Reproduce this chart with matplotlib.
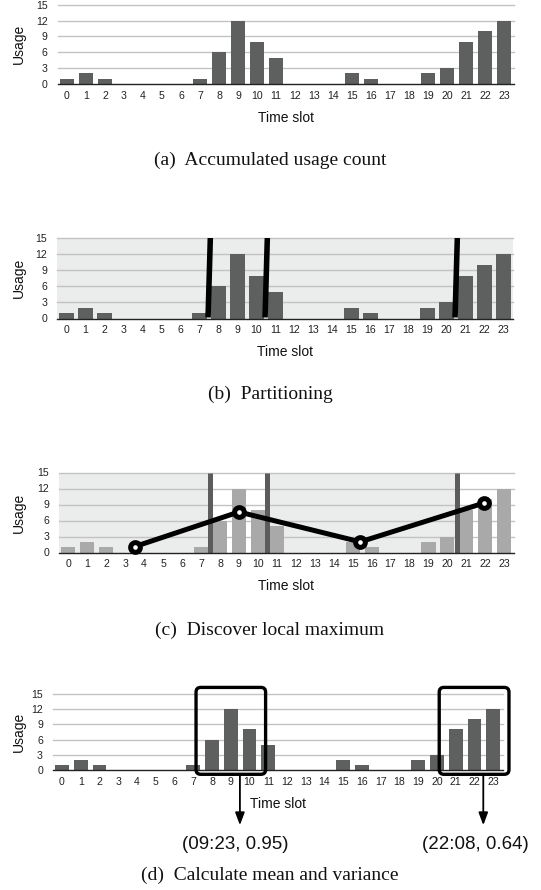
import matplotlib
matplotlib.use("Agg")
import matplotlib.pyplot as plt
from matplotlib.patches import FancyBboxPatch

plt.rcParams['font.family'] = ['Liberation Sans', 'DejaVu Sans']

# ---------------- data ----------------
slots = list(range(24))
usage = [1, 2, 1, 0, 0, 0, 0, 1, 6, 12, 8, 5, 0, 0, 0, 2, 1, 0, 0, 2, 3, 8, 10, 12]
yticks = [0, 3, 6, 9, 12, 15]
partitions = [7.5, 10.5, 20.5]
local_max_x = [3.5, 9.0, 15.4, 21.95]
local_max_y = [1.1, 7.6, 2.0, 9.3]
boxes = [(7.15, 10.86), (20.12, 23.84)]
box_arrow_x = [9.49, 22.47]
box_labels = ["(09:23, 0.95)", "(22:08, 0.64)"]
box_label_x = [9.23, 22.03]
captions = ["(a)  Accumulated usage count", "(b)  Partitioning",
            "(c)  Discover local maximum", "(d)  Calculate mean and variance"]

DARK = '#5e5f5f'
LIGHT = '#a9a9a9'
BG = '#ebecec'
GRID = '#c3c3c3'

W, H = 541, 890
fig = plt.figure(figsize=(W / 100, H / 100), dpi=100)


def make_ax(left, right, top, bottom):
    ax = fig.add_axes([left / W, 1 - bottom / H, (right - left) / W, (bottom - top) / H])
    ax.set_xlim(-0.5, 23.5)
    ax.set_ylim(0, 15)
    for s in ['left', 'right', 'top']:
        ax.spines[s].set_visible(False)
    ax.spines['bottom'].set_color('#222222')
    ax.spines['bottom'].set_linewidth(1.0)
    ax.spines['bottom'].set_zorder(5)
    ax.set_xticks(slots)
    ax.set_xticklabels([str(s) for s in slots], fontsize=7.6, color='#222222')
    ax.set_yticks(yticks)
    ax.set_yticklabels([str(t) for t in yticks], fontsize=7.6, color='#222222')
    ax.tick_params(axis='both', length=0)
    ax.tick_params(axis='x', pad=5.0)
    ax.tick_params(axis='y', pad=7.0)
    for t in yticks[1:]:
        ax.axhline(t, color=GRID, lw=1.0, zorder=1, clip_on=False)
    h = bottom - top
    w = right - left
    ax.text(0.5, -34 / h, 'Time slot', transform=ax.transAxes, ha='center', va='center',
            fontsize=10, color='#111111')
    ax.text((19 - left) / w, 0.5, 'Usage', transform=ax.transAxes, ha='center', va='center',
            rotation=90, fontsize=10, color='#111111')
    ax.set_facecolor('white')
    return ax


def caption(ypx, text):
    fig.text(270 / W, 1 - ypx / H, text, ha='center', va='center', fontsize=14,
             family=['Liberation Serif', 'DejaVu Serif'], color='#111111')


# (a)
ax1 = make_ax(57.5, 513.5, 4.7, 84)
ax1.bar(slots, usage, width=0.74, color=DARK, zorder=3)
caption(160, captions[0])

# (b)
ax2 = make_ax(57.0, 513.0, 238, 318.5)
ax2.set_facecolor(BG)
ax2.bar(slots, usage, width=0.74, color=DARK, zorder=3)
for p in partitions:
    ax2.plot([p - 0.05, p + 0.07], [0.2, 15], color='black', lw=4.0, zorder=4,
             solid_capstyle='butt')
caption(394, captions[1])

# (c)
ax3 = make_ax(58.8, 513.8, 472.5, 552.5)
ax3.axvspan(-0.5, partitions[0], color=BG, zorder=0, lw=0)
ax3.axvspan(partitions[1], partitions[2], color=BG, zorder=0, lw=0)
ax3.bar(slots, usage, width=0.74, color=LIGHT, zorder=3)
for p in partitions:
    ax3.plot([p, p], [0, 15], color='#5c5c5c', lw=3.6, zorder=4, solid_capstyle='butt')
ax3.plot(local_max_x, local_max_y, color='black', lw=3.6, zorder=6, clip_on=False,
         marker='o', markersize=7.0, markerfacecolor='white', markeredgecolor='black',
         markeredgewidth=3.6)
caption(630, captions[2])

# (d)
ax4 = make_ax(52.6, 502.6, 694, 770)
ax4.bar(slots, usage, width=0.74, color=DARK, zorder=3)
for (x0, x1), ax_x, lab, lx in zip(boxes, box_arrow_x, box_labels, box_label_x):
    box = FancyBboxPatch((x0, -0.85), x1 - x0, 16.3 + 0.85,
                         boxstyle='round,pad=0,rounding_size=0.25',
                         mutation_aspect=3.7, fill=False, ec='black', lw=2.4,
                         zorder=7, clip_on=False)
    ax4.add_patch(box)
    ax4.annotate('', xy=(ax_x, -10.9), xytext=(ax_x, -0.85),
                 arrowprops=dict(arrowstyle='-|>,head_width=0.28,head_length=0.75',
                                 color='black', lw=1.3, shrinkA=0, shrinkB=0),
                 annotation_clip=False, zorder=7)
    ax4.text(lx, -14.8, lab, ha='center', va='center', fontsize=13.5, color='#111111',
             clip_on=False)
caption(875, captions[3])

fig.savefig('out.png', dpi=100)
